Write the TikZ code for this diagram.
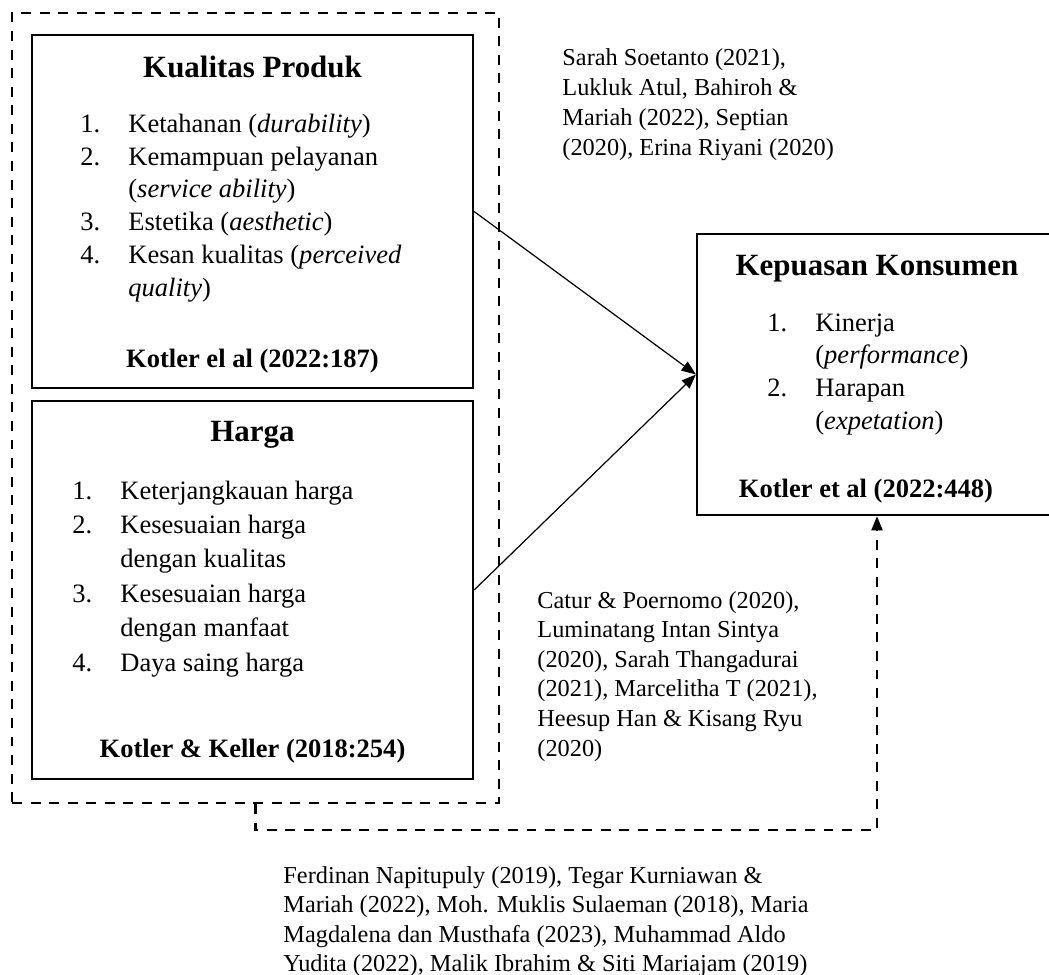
\documentclass[tikz,border=0pt]{standalone}
\usepackage{fontspec}
\setmainfont{Liberation Serif}
\usetikzlibrary{arrows.meta,fit}
\newcommand{\nb}[1]{\makebox[21.7pt][l]{#1}}
\begin{document}
\begin{tikzpicture}[x=0.4525pt,y=-0.4525pt,
  box/.style={draw,line width=1pt,inner sep=0pt},
  dashline/.style={line width=1.1pt,dash pattern=on 4.5pt off 3.9pt},
  dashbox/.style={draw,dashline,inner sep=0pt},
  txt/.style={inner sep=0pt,anchor=base west},
  ttl/.style={inner sep=0pt,anchor=base,font=\fontsize{14}{16}\selectfont\bfseries},
  src/.style={inner sep=0pt,anchor=base,font=\fontsize{12}{14}\selectfont\bfseries},
  tip/.style={-{Triangle[length=6.5pt,width=5pt]}},
  conn/.style={line width=0.55pt,tip},
]
\useasboundingbox (0,0) rectangle (1049,974);
\clip (0,0) rectangle (1049,974);

% frames
\node[dashbox,fit={(12,13) (499,803)}] (outer) {};
\node[box,fit={(32,35) (473,388)}] (kp) {};
\node[box,fit={(32,401) (473,779)}] (hg) {};
\node[box,fit={(697,234) (1057,515)}] (kk) {};

% Kualitas Produk
\node[ttl] (kpt) at (252.5,77) {Kualitas Produk};
\node[txt] (kpl) at (80,132) {\fontsize{12}{14.93pt}\selectfont\begin{tabular}[t]{@{}l@{}l@{}}
\nb{1.}&Ketahanan (\textit{durability})\\
\nb{2.}&Kemampuan pelayanan\\
&(\textit{service ability})\\
\nb{3.}&Estetika (\textit{aesthetic})\\
\nb{4.}&Kesan kualitas (\textit{perceived}\\
&\textit{quality})
\end{tabular}};
\node[src] (kps) at (252.5,367) {Kotler el al (2022:187)};

% Harga
\node[ttl] (hgt) at (252.5,441) {Harga};
\node[txt] (hgl) at (72,499) {\fontsize{12}{15.57pt}\selectfont\begin{tabular}[t]{@{}l@{}l@{}}
\nb{1.}&Keterjangkauan harga\\
\nb{2.}&Kesesuaian harga\\
&dengan kualitas\\
\nb{3.}&Kesesuaian harga\\
&dengan manfaat\\
\nb{4.}&Daya saing harga
\end{tabular}};
\node[src] (hgs) at (252.5,757) {Kotler \& Keller (2018:254)};

% Kepuasan Konsumen
\node[ttl] (kkt) at (877,275) {Kepuasan Konsumen};
\node[txt] (kkl) at (767,331) {\fontsize{12}{14.8pt}\selectfont\begin{tabular}[t]{@{}l@{}l@{}}
\nb{1.}&Kinerja\\
&(\textit{performance})\\
\nb{2.}&Harapan\\
&(\textit{expetation})
\end{tabular}};
\node[src] (kks) at (866,497) {Kotler et al (2022:448)};

% citations
\node[txt] (c1) at (562,65) {\fontsize{11}{13.58pt}\selectfont\begin{tabular}[t]{@{}l@{}}
Sarah Soetanto (2021),\\
Lukluk Atul, Bahiroh \&\\
Mariah (2022), Septian\\
(2020), Erina Riyani (2020)
\end{tabular}};
\node[txt] (c2) at (537,608) {\fontsize{11}{13.4pt}\selectfont\begin{tabular}[t]{@{}l@{}}
Catur \& Poernomo (2020),\\
Luminatang Intan Sintya\\
(2020), Sarah Thangadurai\\
(2021), Marcelitha T (2021),\\
Heesup Han \& Kisang Ryu\\
(2020)
\end{tabular}};
\node[txt] (c3) at (283,883) {\fontsize{11}{13.35pt}\selectfont\begin{tabular}[t]{@{}l@{}}
Ferdinan Napitupuly (2019), Tegar Kurniawan \&\\
Mariah (2022), Moh. Muklis Sulaeman (2018), Maria\\
Magdalena dan Musthafa (2023), Muhammad Aldo\\
Yudita (2022), Malik Ibrahim \& Siti Mariajam (2019)
\end{tabular}};

% connectors
\draw[conn] (kp.east) -- (kk.west);
\draw[conn] (hg.east) -- (kk.west);
\draw[dashline,tip] (outer.south) -- ++(0,26) -| (kk.south);
\end{tikzpicture}
\end{document}
